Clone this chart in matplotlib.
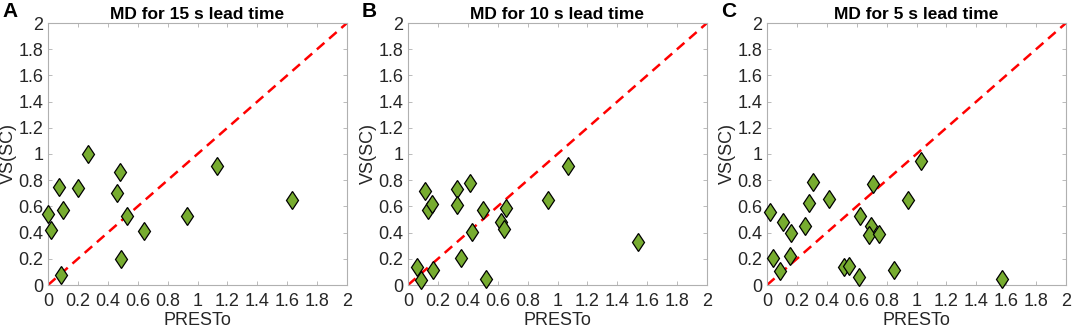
import numpy as np
import matplotlib
matplotlib.use('Agg')
import matplotlib.pyplot as plt

plt.rcParams['font.family'] = ['Liberation Sans', 'DejaVu Sans']

# PRESTo vs VS(SC) magnitude differences
presto_15 = [0.00, 0.018, 0.073, 0.10, 0.084, 0.20, 0.27, 0.46, 0.48, 0.49,
             0.53, 0.64, 0.93, 1.13, 1.63]
vs_15 = [0.54, 0.42, 0.75, 0.57, 0.074, 0.74, 1.00, 0.70, 0.86, 0.20,
         0.53, 0.41, 0.53, 0.91, 0.65]

presto_10 = [0.062, 0.087, 0.116, 0.132, 0.163, 0.165, 0.328, 0.326, 0.415, 0.355,
             0.428, 0.504, 0.52, 0.622, 0.642, 0.656, 0.936, 1.07, 1.54]
vs_10 = [0.134, 0.039, 0.715, 0.57, 0.617, 0.116, 0.733, 0.612, 0.776, 0.203,
         0.404, 0.571, 0.044, 0.483, 0.429, 0.584, 0.648, 0.905, 0.326]

presto_5 = [0.018, 0.04, 0.085, 0.11, 0.152, 0.161, 0.255, 0.28, 0.31, 0.413,
            0.512, 0.547, 0.615, 0.623, 0.697, 0.68, 0.749, 0.711, 0.85, 0.94,
            1.03, 1.575]
vs_5 = [0.559, 0.203, 0.11, 0.482, 0.218, 0.397, 0.449, 0.623, 0.785, 0.654,
        0.136, 0.146, 0.064, 0.523, 0.451, 0.382, 0.39, 0.774, 0.115, 0.649,
        0.949, 0.044]

panels = [('A', 'MD for 15 s lead time', presto_15, vs_15),
          ('B', 'MD for 10 s lead time', presto_10, vs_10),
          ('C', 'MD for 5 s lead time', presto_5, vs_5)]

W, H = 1072, 329
fig = plt.figure(figsize=(W / 100, H / 100), dpi=100)

lefts = [48, 408, 767]
ax_w = 299
ax_top, ax_bot = 23, 285
ticks = np.arange(0, 2.01, 0.2)
ticklabels = ['0', '0.2', '0.4', '0.6', '0.8', '1', '1.2', '1.4', '1.6', '1.8', '2']

for left, (letter, title, x, y) in zip(lefts, panels):
    ax = fig.add_axes([left / W, (H - ax_bot) / H, ax_w / W, (ax_bot - ax_top) / H])
    ax.plot([0, 2], [0, 2], color='#ff0000', linestyle=(0, (4, 2.5)), linewidth=1.8, zorder=2)
    ax.plot(x, y, linestyle='none', marker='d', markersize=9.5,
            markerfacecolor='#77ac30', markeredgecolor='black', markeredgewidth=0.9,
            zorder=3, clip_on=False)
    ax.set_xlim(0, 2)
    ax.set_ylim(0, 2)
    ax.set_xticks(ticks)
    ax.set_xticklabels(ticklabels)
    ax.set_yticks(ticks)
    ax.set_yticklabels(ticklabels)
    ax.tick_params(direction='in', top=True, right=True, length=3, width=0.6,
                   color='#b0b0b0', labelsize=13, labelcolor='#262626')
    ax.tick_params(axis='x', pad=6)
    ax.tick_params(axis='y', pad=3.5)
    for s in ax.spines.values():
        s.set_color('#b0b0b0')
        s.set_linewidth(0.8)
    ax.set_xlabel('PRESTo', fontsize=13, color='#262626', labelpad=1.5)
    ax.set_ylabel('VS(SC)', fontsize=13, color='#262626', labelpad=1)
    ax.set_title(title, fontsize=12.5, fontweight='bold', pad=3)
    fig.text((left - 46) / W, (H - 2) / H, letter, fontsize=15, fontweight='bold',
             ha='left', va='top')

fig.savefig('out.png', dpi=100)
